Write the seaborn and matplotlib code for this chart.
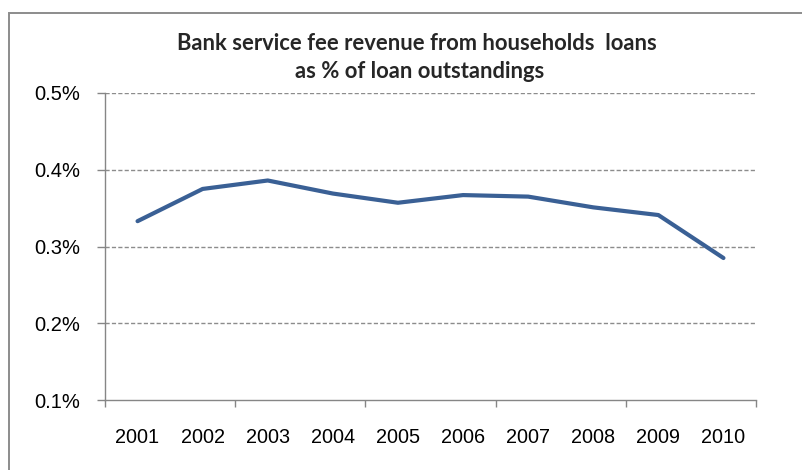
import matplotlib
matplotlib.use("Agg")
import matplotlib.pyplot as plt
from matplotlib.patches import Rectangle
from matplotlib.ticker import FixedLocator, FuncFormatter
import seaborn as sns
import pandas as pd

# Fee revenue on household loans, % of outstanding loans
years = ["2001", "2002", "2003", "2004", "2005", "2006", "2007", "2008", "2009", "2010"]
fee_pct = [0.333, 0.375, 0.386, 0.369, 0.357, 0.367, 0.365, 0.351, 0.341, 0.285]
y_ticks = [0.1, 0.2, 0.3, 0.4, 0.5]
title_lines = ["Bank service fee revenue from households  loans", "as % of loan outstandings"]

df = pd.DataFrame({"year": years, "fee": fee_pct})

sns.set_theme(style="white")
plt.rcParams["font.family"] = ["Liberation Sans", "DejaVu Sans"]

W, H = 803, 470
fig = plt.figure(figsize=(W / 100, H / 100), dpi=100)
fig.patch.set_facecolor("white")

# outer chart frame (only the left and top edges fall inside the canvas)
fig.patches.append(Rectangle((9 / W, -0.2), 1.2, 1.2 - 13 / H,
                             transform=fig.transFigure, fill=False,
                             edgecolor="#8C8C8C", linewidth=1.4, zorder=0))

ax = fig.add_axes([105 / W, 1 - 400 / H, 651 / W, 307 / H])
ax.set_facecolor("white")

sns.lineplot(data=df, x="year", y="fee", ax=ax, color="#3A6095",
             linewidth=3.0, sort=False, solid_capstyle="round", zorder=3)

ax.set_xlim(-0.5, len(years) - 0.5)
ax.set_ylim(y_ticks[0], y_ticks[-1])

# horizontal dashed gridlines
for v in y_ticks[1:]:
    ax.axhline(v, color="#8C8C8C", linewidth=1.0, dashes=(3, 1.6), zorder=1)

ax.yaxis.set_major_locator(FixedLocator(y_ticks))
ax.yaxis.set_major_formatter(FuncFormatter(lambda v, p: f"{v:.1f}%"))
ax.set_xticks(range(len(years)))
ax.set_xticklabels(years)
ax.xaxis.set_minor_locator(FixedLocator([-0.5 + 2 * k for k in range(6)]))

ax.tick_params(axis="x", which="major", length=0, pad=20, labelsize=14.3, labelcolor="black")
ax.tick_params(axis="x", which="minor", length=5.2, width=1.0, color="#868686", direction="out", bottom=True)
ax.tick_params(axis="y", which="major", length=5.8, width=1.0, color="#868686", direction="out",
               pad=12, labelsize=14.5, labelcolor="black", left=True)

for side in ("top", "right"):
    ax.spines[side].set_visible(False)
for side in ("left", "bottom"):
    ax.spines[side].set_color("#868686")
    ax.spines[side].set_linewidth(1.0)

ax.set_xlabel("")
ax.set_ylabel("")

fig.text(417 / W, 1 - 44 / H, title_lines[0], ha="center", va="center",
         fontsize=15.8, fontweight="bold", family=["Lato", "DejaVu Sans"])
fig.text(420 / W, 1 - 71 / H, title_lines[1], ha="center", va="center",
         fontsize=15.8, fontweight="bold", family=["Lato", "DejaVu Sans"])

fig.savefig("out.png", dpi=100)
